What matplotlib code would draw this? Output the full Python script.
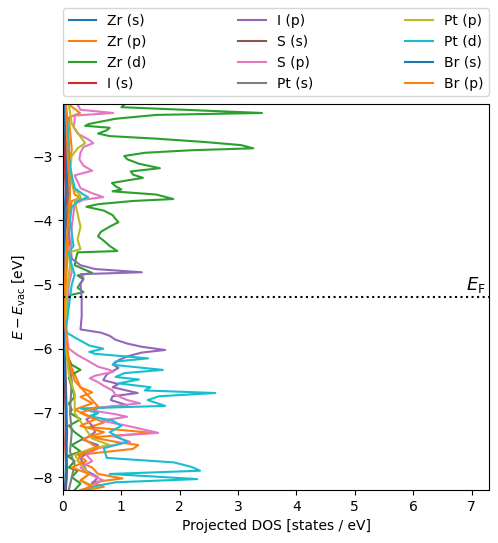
import matplotlib
matplotlib.use('Agg')
import matplotlib.pyplot as plt
import numpy as np

# Projected DOS (energy in eV, DOS in states/eV)
labels = ['Zr (s)', 'Zr (p)', 'Zr (d)', 'I (s)', 'I (p)', 'S (s)', 'S (p)',
          'Pt (s)', 'Pt (p)', 'Pt (d)', 'Br (s)', 'Br (p)']

zr_s_E = [-2.2, -2.6, -2.9, -3.3, -3.65, -4.2, -5.0, -6.0, -6.7, -7.2, -7.7, -8.2]
zr_s = [0.03, 0.05, 0.08, 0.04, 0.06, 0.02, 0.01, 0.02, 0.04, 0.05, 0.06, 0.04]

zr_p_E = [-2.2, -2.3, -2.33, -2.4, -2.6, -2.9, -3.2, -3.6, -3.65, -3.7, -4.0, -4.5,
          -5.0, -5.5, -6.0, -6.3, -6.6, -6.68, -6.75, -6.85, -6.95, -7.05, -7.15,
          -7.22, -7.31, -7.38, -7.45, -7.5, -7.56, -7.65, -7.75, -7.85, -7.95,
          -8.02, -8.08, -8.15, -8.2]
zr_p = [0.1, 0.25, 0.29, 0.1, 0.12, 0.15, 0.1, 0.2, 0.3, 0.15, 0.1, 0.08,
        0.05, 0.03, 0.05, 0.15, 0.3, 0.5, 0.3, 0.5, 0.2, 0.45, 0.7,
        0.45, 1.53, 0.5, 0.9, 1.29, 1.2, 0.3, 0.25, 0.5, 0.6,
        1.02, 0.5, 0.7, 0.4]

zr_d_E = [-2.2, -2.24, -2.3, -2.33, -2.36, -2.42, -2.5, -2.53, -2.56, -2.6, -2.65,
          -2.69, -2.73, -2.78, -2.83, -2.88, -2.91, -2.95, -3.0, -3.05, -3.12,
          -3.19, -3.24, -3.29, -3.34, -3.38, -3.42, -3.47, -3.52, -3.55, -3.6,
          -3.67, -3.7, -3.75, -3.79, -3.85, -3.92, -3.98, -4.03, -4.1, -4.18,
          -4.25, -4.32, -4.4, -4.48, -4.5, -4.6, -4.7, -4.76, -4.82, -4.86,
          -4.92, -4.98, -5.05, -5.12, -5.17, -5.3, -5.8, -6.1, -6.25, -6.33,
          -6.38, -6.45, -6.6, -6.75, -6.85, -6.95, -7.0, -7.1, -7.2, -7.3,
          -7.4, -7.5, -7.6, -7.67, -7.75, -7.85, -7.9, -8.0, -8.1, -8.2]
zr_d = [1.05, 1.0, 2.6, 3.41, 1.6, 0.9, 0.45, 0.38, 0.8, 0.75, 0.6,
        0.8, 1.6, 2.4, 3.05, 3.26, 2.2, 1.4, 1.05, 1.1, 1.3,
        1.66, 1.16, 1.2, 1.37, 1.1, 0.84, 0.9, 1.0, 0.85, 1.6,
        1.89, 1.2, 0.6, 0.4, 0.7, 0.85, 0.9, 0.95, 0.8, 0.65,
        0.6, 0.7, 0.8, 0.93, 0.25, 0.22, 0.2, 0.35, 0.5, 0.25,
        0.35, 0.3, 0.25, 0.35, 0.1, 0.02, 0.02, 0.05, 0.15, 0.3,
        0.2, 0.1, 0.15, 0.2, 0.1, 0.15, 0.12, 0.3, 0.1, 0.2,
        0.35, 0.15, 0.3, 0.08, 0.2, 0.1, 0.25, 0.15, 0.3, 0.2]

i_s_E = [-2.2, -3.0, -3.65, -4.5, -5.5, -6.5, -7.0, -7.5, -8.0, -8.2]
i_s = [0.02, 0.03, 0.05, 0.02, 0.01, 0.03, 0.05, 0.04, 0.06, 0.03]

i_p_E = [-2.2, -3.0, -3.6, -4.2, -4.6, -4.7, -4.76, -4.81, -4.84, -4.9, -5.0,
         -5.2, -5.5, -5.7, -5.75, -5.8, -5.86, -5.92, -5.97, -6.02, -6.06,
         -6.12, -6.18, -6.25, -6.3, -6.4, -6.49, -6.55, -6.6, -6.69, -6.74,
         -6.8, -6.88, -6.93, -7.0, -7.1, -7.2, -7.3, -7.42, -7.5, -7.6, -7.7,
         -7.8, -7.9, -8.0, -8.1, -8.2]
i_p = [0.05, 0.06, 0.08, 0.1, 0.15, 0.3, 0.55, 1.35, 0.3, 0.35, 0.3,
       0.32, 0.32, 0.3, 0.65, 0.8, 0.9, 1.1, 1.35, 1.75, 1.35,
       1.1, 0.95, 0.86, 0.95, 0.75, 0.69, 0.95, 0.85, 1.28, 0.85,
       0.82, 1.1, 0.5, 0.6, 0.4, 0.5, 0.55, 0.35, 0.6, 0.45, 0.3,
       0.35, 0.4, 0.6, 0.5, 0.4]

s_s_E = [-2.2, -2.9, -3.6, -4.3, -5.2, -6.2, -6.9, -7.4, -7.9, -8.2]
s_s = [0.03, 0.06, 0.1, 0.03, 0.01, 0.04, 0.06, 0.05, 0.07, 0.05]

s_p_E = [-2.2, -2.28, -2.33, -2.37, -2.45, -2.55, -2.65, -2.75, -2.8, -2.86, -2.95,
         -3.05, -3.15, -3.23, -3.3, -3.4, -3.5, -3.58, -3.64, -3.68, -3.75, -3.9,
         -4.1, -4.3, -4.6, -4.8, -5.0, -5.3, -5.6, -5.9, -6.0, -6.1, -6.2,
         -6.28, -6.33, -6.36, -6.42, -6.46, -6.52, -6.58, -6.65, -6.72, -6.8,
         -6.85, -6.92, -6.97, -7.02, -7.06, -7.12, -7.2, -7.31, -7.36, -7.45,
         -7.55, -7.65, -7.75, -7.85, -7.95, -8.05, -8.12, -8.2]
s_p = [0.25, 0.3, 0.86, 0.2, 0.2, 0.18, 0.25, 0.45, 0.52, 0.35, 0.3,
       0.28, 0.35, 0.5, 0.2, 0.25, 0.3, 0.5, 0.69, 0.35, 0.2, 0.18,
       0.15, 0.15, 0.12, 0.15, 0.1, 0.08, 0.05, 0.08, 0.1, 0.25, 0.45,
       0.6, 0.8, 0.86, 0.55, 0.46, 0.6, 0.7, 0.85, 0.9, 1.1,
       1.32, 0.6, 0.55, 0.9, 1.1, 0.65, 1.1, 1.63, 0.85, 1.15,
       0.6, 0.4, 0.5, 0.3, 0.45, 0.69, 0.5, 0.35]

pt_s_E = [-2.2, -2.9, -3.6, -4.0, -5.0, -6.0, -6.2, -6.5, -7.0, -7.3, -7.6, -7.8,
          -8.0, -8.2]
pt_s = [0.02, 0.1, 0.12, 0.02, 0.01, 0.03, 0.1, 0.15, 0.12, 0.15, 0.12, 0.2,
        0.15, 0.1]

pt_p_E = [-2.2, -2.5, -2.7, -2.8, -2.88, -3.0, -3.2, -3.5, -3.62, -3.7, -3.9,
          -4.1, -4.3, -4.45, -4.5, -4.7, -5.0, -5.3, -6.0, -6.4, -6.7, -7.0,
          -7.2, -7.4, -7.5, -7.55, -7.65, -7.8, -7.95, -8.05, -8.15, -8.2]
pt_p = [0.1, 0.15, 0.3, 0.38, 0.25, 0.15, 0.12, 0.18, 0.3, 0.2, 0.25,
        0.3, 0.25, 0.3, 0.1, 0.12, 0.08, 0.05, 0.05, 0.1, 0.2, 0.2,
        0.35, 0.5, 0.8, 0.5, 0.2, 0.3, 0.45, 0.3, 0.55, 0.4]

pt_d_E = [-2.2, -2.5, -2.8, -3.0, -3.3, -3.5, -3.6, -3.64, -3.7, -3.8, -4.0,
          -4.2, -4.4, -4.5, -4.7, -4.85, -5.0, -5.2, -5.5, -5.7, -5.76, -5.85,
          -5.95, -6.0, -6.05, -6.08, -6.15, -6.2, -6.25, -6.33, -6.38, -6.44,
          -6.48, -6.54, -6.6, -6.65, -6.69, -6.74, -6.8, -6.89, -6.93, -7.0,
          -7.05, -7.12, -7.2, -7.3, -7.38, -7.45, -7.55, -7.7, -7.77, -7.84,
          -7.9, -7.95, -8.03, -8.08, -8.15, -8.2]
pt_d = [0.05, 0.08, 0.1, 0.1, 0.15, 0.2, 0.35, 0.43, 0.25, 0.15, 0.12,
        0.15, 0.18, 0.1, 0.15, 0.2, 0.15, 0.12, 0.08, 0.05, 0.08, 0.25,
        0.45, 0.69, 0.45, 0.55, 1.46, 0.9, 0.85, 1.71, 1.05, 0.9,
        1.3, 0.95, 1.5, 1.4, 2.61, 1.65, 1.45, 1.75, 0.3, 0.6,
        0.45, 0.85, 1.0, 0.8, 0.95, 1.1, 0.7, 0.75, 1.9, 2.2,
        2.35, 0.8, 2.3, 0.9, 0.5, 0.4]

br_s_E = [-2.2, -2.7, -3.3, -4.0, -5.0, -6.0, -6.8, -7.3, -7.8, -8.2]
br_s = [0.02, 0.04, 0.06, 0.02, 0.01, 0.02, 0.05, 0.07, 0.05, 0.04]

br_p_E = [-2.2, -3.0, -3.6, -4.5, -5.5, -6.2, -6.5, -6.7, -6.9, -7.0, -7.1, -7.2,
          -7.3, -7.4, -7.55, -7.65, -7.75, -7.85, -7.95, -8.05, -8.15, -8.2]
br_p = [0.05, 0.08, 0.12, 0.05, 0.02, 0.1, 0.2, 0.4, 0.6, 0.3, 0.55, 0.3,
        0.7, 0.35, 0.6, 0.25, 0.4, 0.15, 0.45, 0.3, 0.5, 0.3]

E_fermi = -5.19

series = [(zr_s_E, zr_s), (zr_p_E, zr_p), (zr_d_E, zr_d), (i_s_E, i_s),
          (i_p_E, i_p), (s_s_E, s_s), (s_p_E, s_p), (pt_s_E, pt_s),
          (pt_p_E, pt_p), (pt_d_E, pt_d), (br_s_E, br_s), (br_p_E, br_p)]
colors = ['C0', 'C1', 'C2', 'C3', 'C4', 'C5', 'C6', 'C7', 'C8', 'C9', 'C0', 'C1']

fig = plt.figure(figsize=(4.98, 5.43), dpi=100)
ax = fig.add_axes([0.1265, 0.0976, 0.8555, 0.7109])

for (E, dos), lab, c in zip(series, labels, colors):
    ax.plot(dos, E, color=c, label=lab)

ax.axhline(E_fermi, color='black', linestyle=':', linewidth=1.5)
ax.text(7.25, E_fermi + 0.02, r'$E_\mathrm{F}$', fontsize=13,
        ha='right', va='bottom')

ax.set_xlim(0, 7.3)
ax.set_ylim(-8.2, -2.19)
ax.set_xlabel('Projected DOS [states / eV]')
ax.set_ylabel(r'$E - E_\mathrm{vac}$ [eV]')

ax.legend(loc='lower left', bbox_to_anchor=(0, 1.02, 1, 0.2), mode='expand',
          ncol=3, borderaxespad=0.)

fig.savefig('out.png', dpi=100)
